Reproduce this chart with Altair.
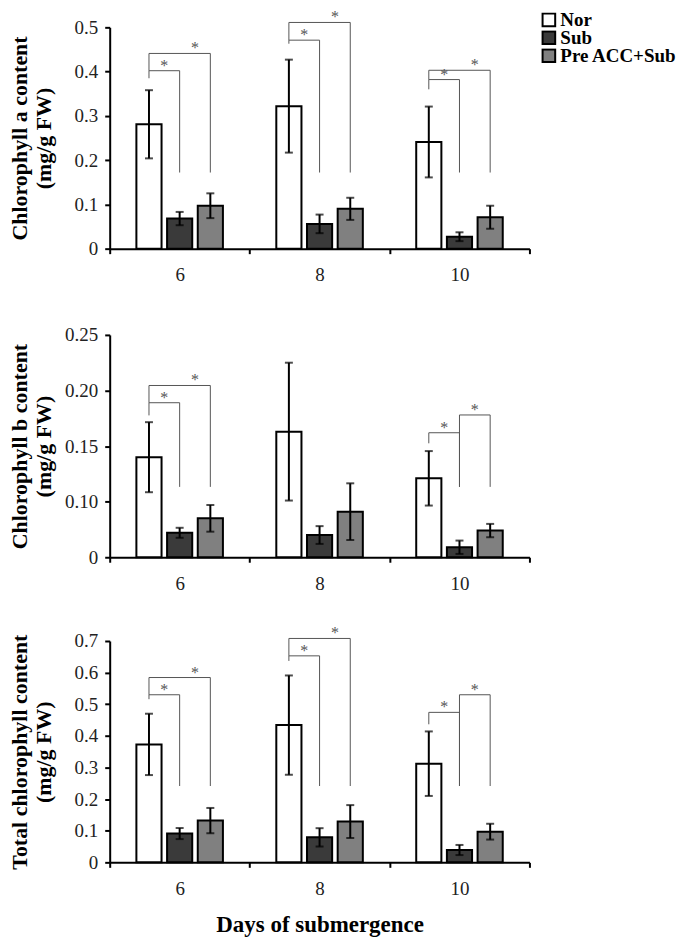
import altair as alt
import pandas as pd

# ---------------- data ----------------
days = ["6", "8", "10"]
series = ["Nor", "Sub", "Pre ACC+Sub"]
colors = ["#ffffff", "#3a3a3a", "#808080"]
# slots within each day for error bars / brackets: gaps, the three bars and midpoints between them
offset_domain = ["g1", "g2", "Nor", "m1", "Sub", "m2", "Pre ACC+Sub", "g3", "g4"]

# Chlorophyll a
a_nor = [0.281, 0.322, 0.241]
a_sub = [0.068, 0.056, 0.027]
a_pre = [0.097, 0.090, 0.071]
a_nor_err = [0.077, 0.105, 0.080]
a_sub_err = [0.015, 0.021, 0.010]
a_pre_err = [0.028, 0.025, 0.026]

# Chlorophyll b (axis labelled from "0" at its minimum)
b_nor = [0.140, 0.163, 0.121]
b_sub = [0.072, 0.070, 0.059]
b_pre = [0.085, 0.091, 0.074]
b_nor_err = [0.0315, 0.062, 0.0245]
b_sub_err = [0.0045, 0.008, 0.006]
b_pre_err = [0.012, 0.0255, 0.006]

# Total chlorophyll
t_nor = [0.373, 0.434, 0.312]
t_sub = [0.091, 0.079, 0.039]
t_pre = [0.132, 0.129, 0.097]
t_nor_err = [0.097, 0.157, 0.102]
t_sub_err = [0.0175, 0.029, 0.016]
t_pre_err = [0.040, 0.052, 0.025]

# significance brackets: day, from, to, level, left-leg end, right-leg end, star slot
a_brackets = [
    ("6", "Nor", "Sub", 0.402, 0.385, 0.172, "m1"),
    ("6", "Nor", "Pre ACC+Sub", 0.441, 0.402, 0.172, "m2"),
    ("8", "Nor", "Sub", 0.471, 0.463, 0.172, "m1"),
    ("8", "Nor", "Pre ACC+Sub", 0.511, 0.471, 0.172, "m2"),
    ("10", "Nor", "Sub", 0.382, 0.360, 0.172, "m1"),
    ("10", "Nor", "Pre ACC+Sub", 0.403, 0.382, 0.172, "m2"),
]
b_brackets = [
    ("6", "Nor", "Sub", 0.189, 0.1776, 0.1133, "m1"),
    ("6", "Nor", "Pre ACC+Sub", 0.2045, 0.189, 0.1133, "m2"),
    ("10", "Nor", "Sub", 0.162, 0.1525, 0.1133, "m1"),
    ("10", "Sub", "Pre ACC+Sub", 0.178, 0.1133, 0.1133, "m2"),
]
t_brackets = [
    ("6", "Nor", "Sub", 0.530, 0.516, 0.2414, "m1"),
    ("6", "Nor", "Pre ACC+Sub", 0.5845, 0.530, 0.2414, "m2"),
    ("8", "Nor", "Sub", 0.653, 0.637, 0.2414, "m1"),
    ("8", "Nor", "Pre ACC+Sub", 0.708, 0.653, 0.2414, "m2"),
    ("10", "Nor", "Sub", 0.4743, 0.4366, 0.2414, "m1"),
    ("10", "Sub", "Pre ACC+Sub", 0.530, 0.2414, 0.2414, "m2"),
]

a_ticks = [0, 0.1, 0.2, 0.3, 0.4, 0.5]
b_ticks = [0.05, 0.10, 0.15, 0.20, 0.25]
t_ticks = [0, 0.1, 0.2, 0.3, 0.4, 0.5, 0.6, 0.7]

SERIF = "Liberation Serif"


def bar_table(nor, sub, pre, nor_e, sub_e, pre_e):
    rows = []
    for s, vals, errs in [("Nor", nor, nor_e), ("Sub", sub, sub_e), ("Pre ACC+Sub", pre, pre_e)]:
        for d, v, e in zip(days, vals, errs):
            rows.append({"day": d, "series": s, "value": v, "lo": v - e, "hi": v + e})
    return pd.DataFrame(rows)


def bracket_tables(brackets):
    path, stars = [], []
    for i, (d, a, b, lev, lb, rb, star) in enumerate(brackets):
        for k, (pos, val) in enumerate([(a, lb), (a, lev), (b, lev), (b, rb)]):
            path.append({"id": i, "ord": k, "day": d, "pos": pos, "val": val})
        stars.append({"day": d, "pos": star, "val": lev, "txt": "*"})
    return pd.DataFrame(path), pd.DataFrame(stars)


def panel(df, brackets, ymin, ymax, ticks, title, label_expr, height, xtitle=None, legend=None):
    path, stars = bracket_tables(brackets)
    xaxis = alt.Axis(title=xtitle, labelAngle=0, tickBand="extent",
                     labelPadding=12, titlePadding=15)
    xenc = alt.X("day:N", sort=days,
                 scale=alt.Scale(paddingInner=0, paddingOuter=0), axis=xaxis)
    yscale = alt.Scale(domain=[ymin, ymax], zero=False, nice=False)
    yaxis = alt.Axis(title=title, values=ticks, labelExpr=label_expr,
                     labelOverlap=False, titleX=-78)

    def xe():
        return alt.X("day:N", sort=days, axis=xaxis)

    def ye(field):
        return alt.Y(field, scale=yscale, axis=yaxis)

    bars = alt.Chart(df).mark_bar(stroke="black", strokeWidth=2).encode(
        x=xenc,
        xOffset=alt.XOffset("series:N", sort=series,
                            scale=alt.Scale(paddingInner=0.18, paddingOuter=0.87)),
        y=ye("value:Q"), y2=alt.datum(ymin),
        color=alt.Color("series:N", scale=alt.Scale(domain=series, range=colors),
                        legend=legend),
    )
    slot = alt.Scale(domain=offset_domain, paddingInner=0, paddingOuter=0.06)
    err = alt.Chart(df).mark_rule(color="black", strokeWidth=2).encode(
        x=xe(), xOffset=alt.XOffset("series:N", scale=slot),
        y=ye("lo:Q"), y2="hi:Q")
    cap_lo = alt.Chart(df).mark_tick(color="black", thickness=2, size=8).encode(
        x=xe(), xOffset=alt.XOffset("series:N", scale=slot), y=ye("lo:Q"))
    cap_hi = alt.Chart(df).mark_tick(color="black", thickness=2, size=8).encode(
        x=xe(), xOffset=alt.XOffset("series:N", scale=slot), y=ye("hi:Q"))
    lines = alt.Chart(path).mark_line(color="#555555", strokeWidth=1).encode(
        x=xe(), xOffset=alt.XOffset("pos:N", scale=slot),
        y=ye("val:Q"), detail="id:N", order="ord:Q")
    txt = alt.Chart(stars).mark_text(font=SERIF, fontSize=16, color="#555555",
                                     baseline="bottom", dy=3).encode(
        x=xe(), xOffset=alt.XOffset("pos:N", scale=slot),
        y=ye("val:Q"), text="txt:N")
    marks = alt.layer(bars, alt.layer(err, cap_lo, cap_hi, lines, txt)).resolve_scale(
        xOffset="independent")
    return marks.properties(width=421, height=height)


legend = alt.Legend(title=None, orient="none", legendX=431, legendY=-15,
                    symbolType="square", symbolSize=160,
                    symbolStrokeColor="black", symbolStrokeWidth=2,
                    labelFont=SERIF, labelFontSize=19,
                    labelFontWeight="bold", labelColor="black",
                    clipHeight=15, rowPadding=-4, labelOffset=2)

top = panel(bar_table(a_nor, a_sub, a_pre, a_nor_err, a_sub_err, a_pre_err), a_brackets,
            0, 0.5, a_ticks, ["Chlorophyll a content", "(mg/g FW)"],
            "format(datum.value, '~g')", 222, legend=legend)
mid = panel(bar_table(b_nor, b_sub, b_pre, b_nor_err, b_sub_err, b_pre_err), b_brackets,
            0.05, 0.25, b_ticks, ["Chlorophyll b content", "(mg/g FW)"],
            "datum.value < 0.06 ? '0' : format(datum.value, '.2f')", 223, legend=None)
bot = panel(bar_table(t_nor, t_sub, t_pre, t_nor_err, t_sub_err, t_pre_err), t_brackets,
            0, 0.7, t_ticks, ["Total chlorophyll content", "(mg/g FW)"],
            "format(datum.value, '~g')", 222, xtitle="Days of submergence", legend=None)

chart = alt.vconcat(alt.vconcat(top, mid, spacing=41.5), bot, spacing=31.5).properties(
    padding=0
).configure_view(
    stroke=None
).configure_axis(
    domainColor="black", domainWidth=2, tickColor="black", tickWidth=2, tickSize=5,
    grid=False, labelFont=SERIF, labelFontSize=19, labelColor="#222222",
    titleFont=SERIF, titleFontWeight="bold", titleColor="black",
).configure_axisY(
    titleFontSize=22, titleLineHeight=24, labelPadding=7,
).configure_axisX(
    titleFontSize=23,
)

chart.save("out.html", embed_options={"renderer": "svg", "actions": False})
